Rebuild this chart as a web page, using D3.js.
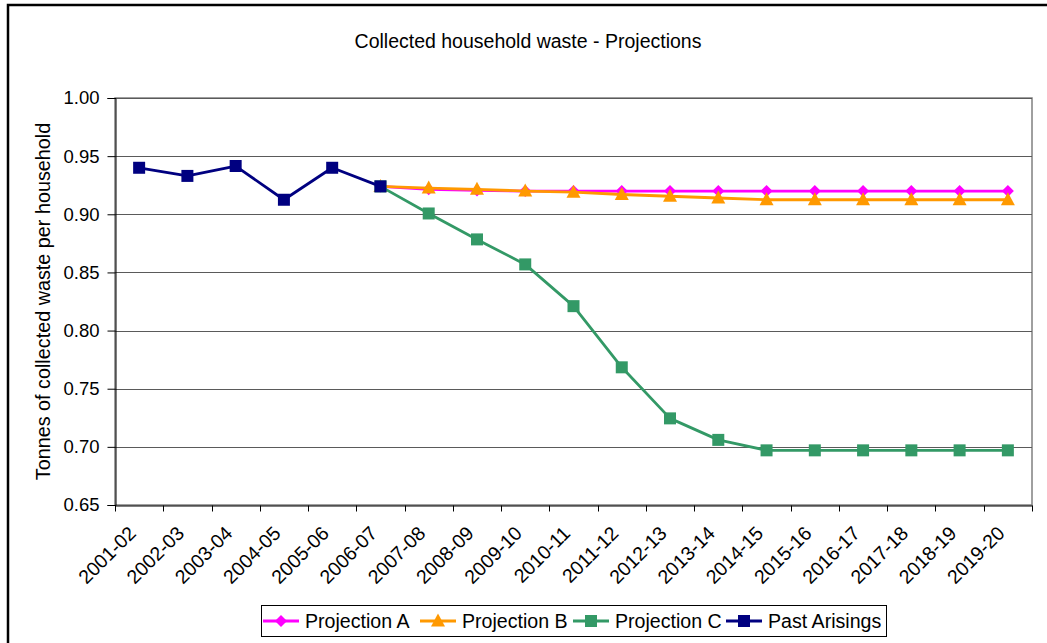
<!DOCTYPE html>
<html><head><meta charset="utf-8">
<script src="https://cdn.jsdelivr.net/npm/d3@7"></script>
<style>
html,body{margin:0;padding:0;background:#fff;}
svg{display:block;font-family:"Liberation Sans",Arial,sans-serif;}
</style></head>
<body><svg id="c" width="1047" height="643"></svg>
<script>
const categories = ["2001-02","2002-03","2003-04","2004-05","2005-06","2006-07","2007-08","2008-09","2009-10","2010-11","2011-12","2012-13","2013-14","2014-15","2015-16","2016-17","2017-18","2018-19","2019-20"];
const projectionA = [null,null,null,null,null,0.924,0.9215,0.9205,0.920,0.920,0.920,0.920,0.920,0.920,0.920,0.920,0.920,0.920,0.920];
const projectionB = [null,null,null,null,null,0.924,0.9225,0.9215,0.920,0.919,0.917,0.9155,0.914,0.9125,0.9125,0.9125,0.9125,0.9125,0.9125];
const projectionC = [null,null,null,null,null,0.924,0.9007,0.8784,0.8569,0.821,0.7684,0.7245,0.706,0.697,0.697,0.697,0.697,0.697,0.697];
const pastArisings = [0.940,0.933,0.9415,0.9125,0.940,0.924,null,null,null,null,null,null,null,null,null,null,null,null,null];
const yTicks = [0.65,0.70,0.75,0.80,0.85,0.90,0.95,1.00];
const seriesNames = ["Projection A","Projection B","Projection C","Past Arisings"];

const series = [
  {name:seriesNames[0], values:projectionA, color:"#FF00FF", marker:"diamond"},
  {name:seriesNames[1], values:projectionB, color:"#FF9900", marker:"triangle"},
  {name:seriesNames[2], values:projectionC, color:"#339966", marker:"square"},
  {name:seriesNames[3], values:pastArisings, color:"#000080", marker:"square"}
];

const FONT = "Liberation Sans, Arial, sans-serif";
const svg = d3.select("#c");
const L=115, R=1032, T=98, B=505;

// outer frame
svg.append("rect").attr("x",8).attr("y",5).attr("width",1100).attr("height",700)
  .attr("fill","#fff").attr("stroke","#000").attr("stroke-width",2.5);

const x = d3.scaleBand().domain(categories).range([L,R]).padding(0);
const y = d3.scaleLinear().domain([0.65,1.00]).range([B,T]);

// plot area border
svg.append("rect").attr("x",L).attr("y",T).attr("width",R-L).attr("height",B-T)
  .attr("fill","none").attr("stroke","#808080").attr("stroke-width",1.5);

// gridlines
svg.append("g").selectAll("line").data(yTicks.slice(1)).join("line")
  .attr("x1",L).attr("x2",R).attr("y1",d=>Math.round(y(d))+0.5).attr("y2",d=>Math.round(y(d))+0.5)
  .attr("stroke","#5a5a5a").attr("stroke-width",1);

// y axis
const yAxis = svg.append("g").attr("transform",`translate(${L+0.5},0)`)
  .call(d3.axisLeft(y).tickValues(yTicks).tickFormat(d3.format(".2f")).tickSize(8).tickPadding(8));
yAxis.select(".domain").attr("stroke","#000");
yAxis.selectAll(".tick line").attr("stroke","#000");
yAxis.selectAll("text").attr("font-size","18.5px").attr("fill","#000").attr("font-family",FONT);

// x axis
const xAxis = svg.append("g").attr("transform",`translate(0,${B+0.5})`)
  .call(d3.axisBottom(x).tickSize(0).tickFormat(""));
xAxis.select(".domain").attr("stroke","#000");
const boundaries = d3.range(categories.length+1).map(i=>L + i*x.bandwidth());
xAxis.append("g").selectAll("line").data(boundaries).join("line")
  .attr("x1",d=>Math.round(d)+0.5).attr("x2",d=>Math.round(d)+0.5).attr("y1",0).attr("y2",6)
  .attr("stroke","#000");
xAxis.append("g").selectAll("text").data(categories).join("text")
  .attr("transform",d=>`translate(${x(d)+x.bandwidth()/2-2},${29}) rotate(-45)`)
  .attr("text-anchor","end").attr("font-size","19.5px").attr("fill","#000")
  .attr("font-family",FONT)
  .text(d=>d);

// title
svg.append("text").attr("x",528).attr("y",48).attr("text-anchor","middle")
  .attr("font-size","19.5px").text("Collected household waste - Projections");

// y title
svg.append("text").attr("transform",`translate(50,${(T+B)/2}) rotate(-90)`)
  .attr("text-anchor","middle").attr("font-size","19.8px").text("Tonnes of collected waste per household");

function markerPath(type){
  if(type==="diamond") return "M0,-6L6,0L0,6L-6,0Z";
  if(type==="triangle") return "M0,-7.5L7,5.5L-7,5.5Z";
  return "M-6,-6H6V6H-6Z";
}

const line = d3.line().defined(d=>d.v!=null).x(d=>x(d.c)+x.bandwidth()/2).y(d=>y(d.v));
series.forEach(s=>{
  const pts = categories.map((c,i)=>({c, v:s.values[i]}));
  const g = svg.append("g");
  g.append("path").attr("d",line(pts)).attr("fill","none").attr("stroke",s.color).attr("stroke-width",2.8).attr("stroke-linejoin","round");
  g.selectAll("path.m").data(pts.filter(d=>d.v!=null)).join("path").attr("class","m")
    .attr("transform",d=>`translate(${x(d.c)+x.bandwidth()/2},${y(d.v)})`)
    .attr("d",markerPath(s.marker)).attr("fill",s.color);
});

// legend
const lg = svg.append("g");
lg.append("rect").attr("x",261.5).attr("y",605.5).attr("width",625).attr("height",31)
  .attr("fill","#fff").attr("stroke","#000").attr("stroke-width",1);
const legendX = [263, 420, 573, 726];
series.forEach((s,i)=>{
  const gx = legendX[i], gy = 621;
  lg.append("line").attr("x1",gx).attr("x2",gx+36).attr("y1",gy).attr("y2",gy).attr("stroke",s.color).attr("stroke-width",2.8);
  lg.append("path").attr("transform",`translate(${gx+18},${gy})`).attr("d",markerPath(s.marker)).attr("fill",s.color);
  lg.append("text").attr("x",gx+42).attr("y",gy+7).attr("font-size","19.6px").text(s.name);
});
</script></body></html>
